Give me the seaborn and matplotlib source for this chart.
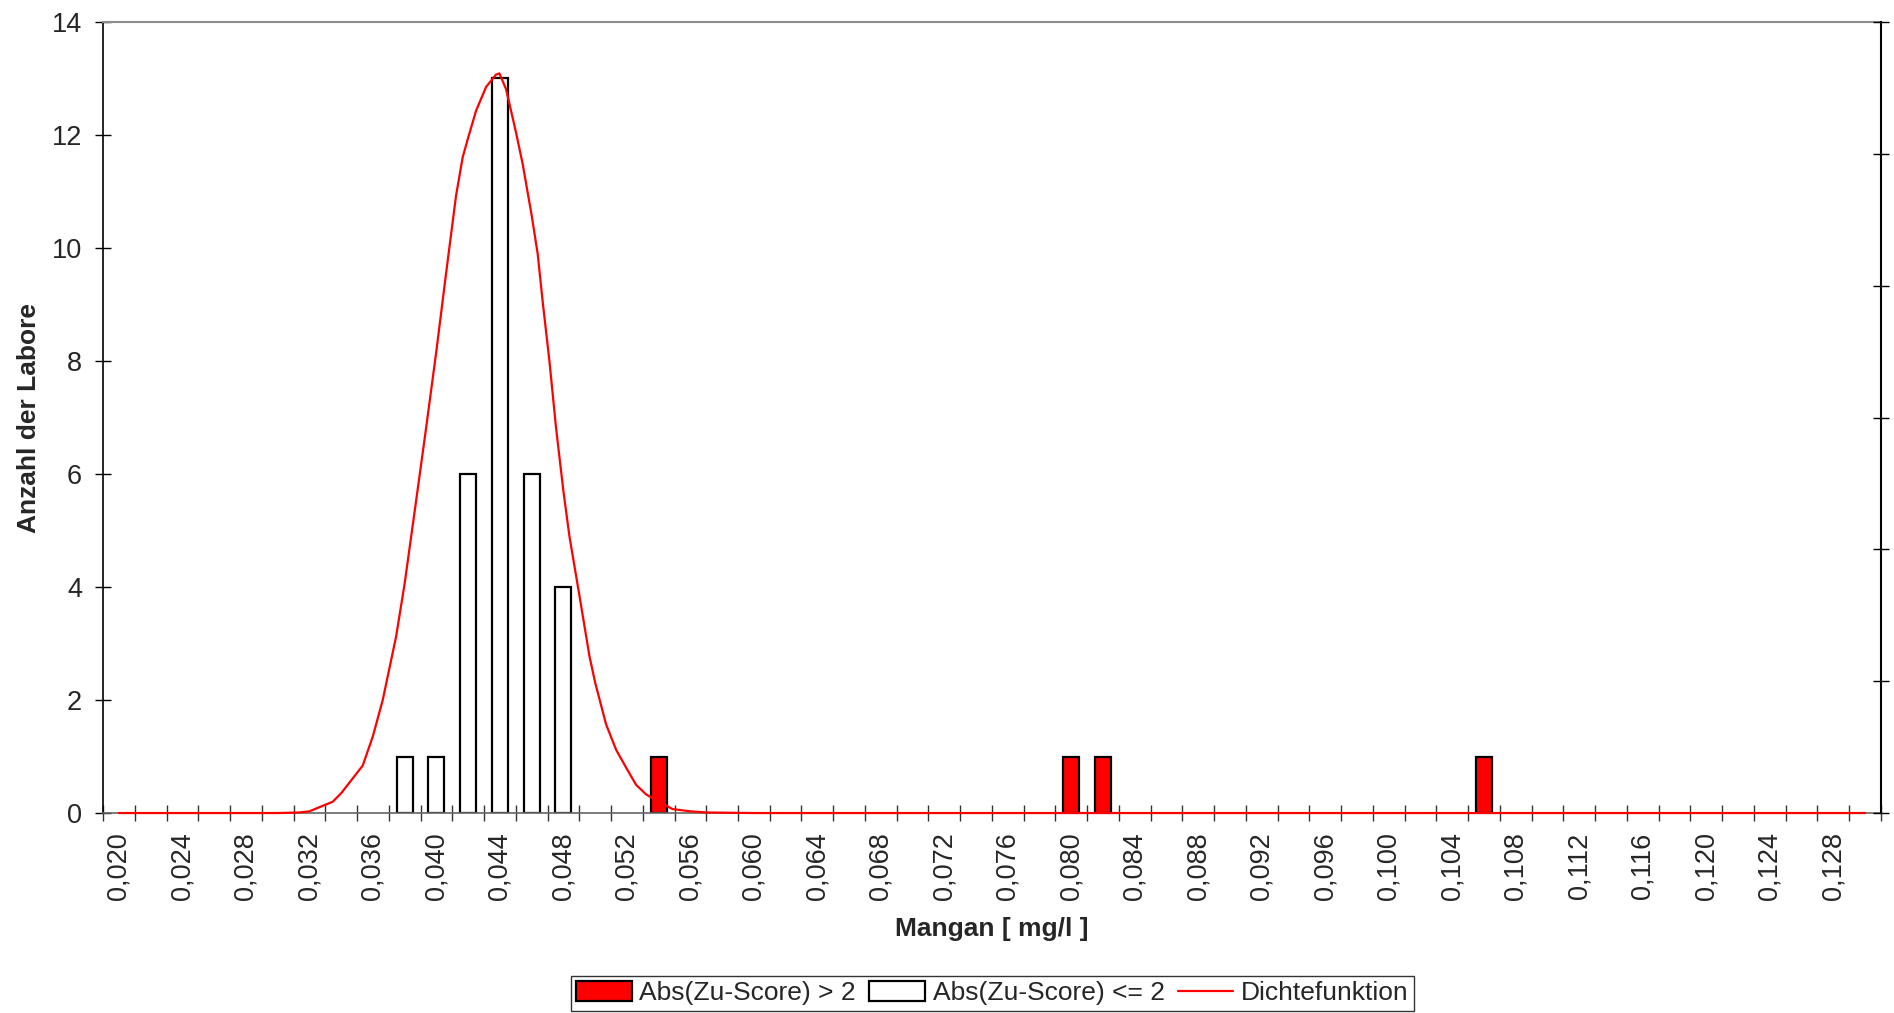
import matplotlib
matplotlib.use("Agg")
import matplotlib.pyplot as plt
from matplotlib.patches import Patch
from matplotlib.lines import Line2D
import seaborn as sns
import numpy as np

sns.set_theme(style="white")
plt.rcParams["font.family"] = ["Liberation Sans", "DejaVu Sans"]

# Klassen (mg/l) und Anzahl der Labore
x_ok = [0.038, 0.040, 0.042, 0.044, 0.046, 0.048]
n_ok = [1, 1, 6, 13, 6, 4]
x_out = [0.054, 0.080, 0.082, 0.106]
n_out = [1, 1, 1, 1]

# Dichtefunktion
dichte_x = [0.020, 0.030, 0.03137, 0.0320, 0.03347, 0.0340, 0.03536, 0.0360, 0.03662,
            0.03746, 0.0380, 0.03872, 0.03935, 0.0400, 0.04061, 0.04124, 0.04166, 0.0420,
            0.0425, 0.04313, 0.04376, 0.04397, 0.04439, 0.04502, 0.04544, 0.0460, 0.04638,
            0.04670, 0.04712, 0.04754, 0.0480, 0.04838, 0.04901, 0.04964, 0.0500, 0.05069,
            0.05132, 0.0520, 0.05258, 0.05321, 0.0540, 0.05488, 0.0560, 0.05699, 0.060, 0.130]
dichte_y = [0.0, 0.0, 0.01, 0.03, 0.20, 0.35, 0.84, 1.36, 2.0,
            3.12, 4.06, 5.52, 6.81, 8.18, 9.55, 10.93, 11.61, 11.95,
            12.43, 12.85, 13.07, 13.09, 12.81, 12.04, 11.48, 10.58, 9.9,
            9.04, 8.0, 6.81, 5.7, 4.9, 3.85, 2.78, 2.31, 1.57,
            1.12, 0.78, 0.5, 0.33, 0.2, 0.07, 0.03, 0.01, 0.0, 0.0]

tick_labels = np.round(np.arange(0.020, 0.1281, 0.004), 3)
grenzen = np.round(np.arange(0.019, 0.1311, 0.002), 3)

fig, ax = plt.subplots(figsize=(18.94, 10.13), dpi=100)
fig.subplots_adjust(left=0.0544, right=0.9931, top=0.9783, bottom=0.1974)

sns.barplot(x=x_ok, y=n_ok, native_scale=True, orient="x", width=0.5, errorbar=None,
            color="white", edgecolor="black", linewidth=1.6, saturation=1, ax=ax, zorder=2)
sns.barplot(x=x_out, y=n_out, native_scale=True, orient="x", width=0.5, errorbar=None,
            color="#ff0000", edgecolor="black", linewidth=1.6, saturation=1, ax=ax, zorder=2)
sns.lineplot(x=dichte_x, y=dichte_y, color="#ff0000", linewidth=1.6, ax=ax, zorder=5)
for ln in ax.lines:
    ln.set_clip_on(False)

ax.set_xlim(0.019, 0.131)
ax.set_ylim(0, 14)
ax.set_xticks(tick_labels)
ax.set_xticklabels([f"{v:.3f}".replace(".", ",") for v in tick_labels], rotation=90)
ax.set_xticks(grenzen, minor=True)
ax.set_yticks(range(0, 15, 2))
ax.tick_params(axis="x", which="major", length=0, pad=14, labelsize=19.5, bottom=True)
ax.tick_params(axis="x", which="minor", direction="inout", length=12, width=1,
               color="#333333", bottom=True)
ax.tick_params(axis="y", direction="inout", length=12, width=1, pad=9, labelsize=19.5,
               left=True, color="black")

ax.set_xlabel("Mangan [ mg/l ]", fontsize=19, fontweight="bold", labelpad=12)
ax.set_ylabel("Anzahl der Labore", fontsize=19, fontweight="bold", labelpad=8)

ax.spines["left"].set_color("black")
ax.spines["left"].set_linewidth(1.2)
ax.spines["bottom"].set_color("#666666")
ax.spines["bottom"].set_linewidth(1.2)
ax.spines["top"].set_color("#8c8c8c")
ax.spines["top"].set_linewidth(1.5)
ax.spines["right"].set_visible(False)

ax2 = ax.twinx()
ax2.set_ylim(0, 6)
ax2.set_yticks(range(7))
ax2.tick_params(axis="y", direction="inout", length=12, width=1, right=True,
                labelright=False, color="black")
for s in ["left", "top", "bottom"]:
    ax2.spines[s].set_visible(False)
ax2.spines["right"].set_color("black")
ax2.spines["right"].set_linewidth(1.5)
ax2.grid(False)

handles = [Patch(facecolor="#ff0000", edgecolor="black", linewidth=1.6),
           Patch(facecolor="white", edgecolor="black", linewidth=1.6),
           Line2D([0], [0], color="#ff0000", linewidth=1.6)]
labels = ["Abs(Zu-Score) > 2", "Abs(Zu-Score) <= 2", "Dichtefunktion"]
leg = fig.legend(handles, labels, loc="center", bbox_to_anchor=(0.524, 0.0195), ncol=3,
                 fontsize=19, frameon=True, fancybox=False, edgecolor="black",
                 handlelength=2.1, handleheight=0.8, handletextpad=0.3,
                 columnspacing=0.5, borderpad=0.2, borderaxespad=0)
leg.get_frame().set_linewidth(1)

fig.savefig("out.png", dpi=100)
